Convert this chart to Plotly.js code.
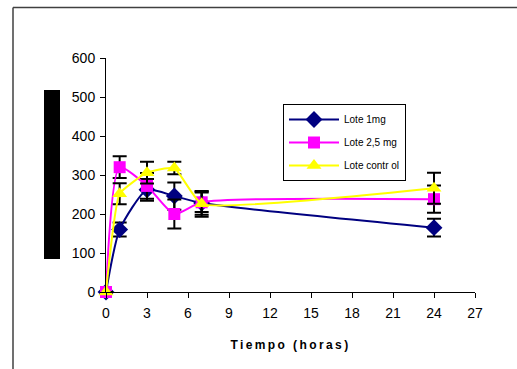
<!DOCTYPE html>
<html>
<head>
<meta charset="utf-8">
<script src="https://cdn.plot.ly/plotly-3.0.1.min.js"></script>
<style>
html,body{margin:0;padding:0;background:#fff;}
#chart{width:517px;height:369px;}
</style>
</head>
<body>
<div id="chart"></div>
<script>
// Data
const tiempo = [0, 1, 3, 5, 7, 24];
const lote1mg = [0, 160, 262, 246, 228, 165];
const lote1mgErr = [0, 18, 28, 35, 30, 23];
const lote25mg = [0, 320, 272, 200, 230, 238];
const lote25mgErr = [0, 28, 33, 37, 25, 35];
const loteControl = [0, 252, 306, 318, 226, 266];
const loteControlErr = [0, 27, 28, 16, 33, 40];
const seriesNames = ['Lote 1mg', 'Lote 2,5 mg', 'Lote contr ol'];
const xTicks = [0, 3, 6, 9, 12, 15, 18, 21, 24, 27];
const yTicks = [0, 100, 200, 300, 400, 500, 600];

function errBar(arr) {
  return {type: 'data', array: arr, visible: true, color: '#000000', thickness: 2, width: 7};
}

const traces = [
  {
    x: tiempo, y: lote1mg, name: seriesNames[0], legendgroup: 'a', type: 'scatter', mode: 'lines+markers',
    line: {color: '#000080', width: 2, shape: 'spline', smoothing: 0.6},
    marker: {symbol: 'diamond', size: 13, color: '#000080'},
    error_y: errBar(lote1mgErr), cliponaxis: false
  },
  {
    x: tiempo, y: lote25mg, name: seriesNames[1], legendgroup: 'b', type: 'scatter', mode: 'lines+markers',
    line: {color: '#FF00FF', width: 2, shape: 'spline', smoothing: 0.6},
    marker: {symbol: 'square', size: 12, color: '#FF00FF'},
    error_y: errBar(lote25mgErr), cliponaxis: false
  },
  {
    x: tiempo, y: loteControl, name: seriesNames[2], legendgroup: 'c', type: 'scatter', mode: 'lines+markers',
    line: {color: '#FFFF00', width: 2, shape: 'spline', smoothing: 0.4},
    marker: {symbol: 'triangle-up', size: 13, color: '#FFFF00'},
    error_y: errBar(loteControlErr), cliponaxis: false
  }
];

const px = v => (v - 106) / 369;
const py = v => (292 - v) / 234;

const layout = {
  width: 517, height: 369,
  margin: {l: 106, r: 42, t: 58, b: 77},
  paper_bgcolor: '#ffffff', plot_bgcolor: '#ffffff',
  font: {family: 'Liberation Sans, Arial, sans-serif', color: '#000000', size: 14},
  showlegend: true,
  legend: {
    x: px(283), y: py(104), xanchor: 'left', yanchor: 'top',
    bordercolor: '#000000', borderwidth: 1, bgcolor: '#ffffff',
    font: {size: 10, family: 'Liberation Sans, Arial, sans-serif'},
    itemwidth: 50, tracegroupgap: 4
  },
  xaxis: {
    range: [0, 27], tickvals: xTicks, ticktext: xTicks.map(String),
    showgrid: false, zeroline: false, showline: true, linecolor: '#000000', linewidth: 1,
    ticks: 'outside', ticklen: 5, tickcolor: '#000000', tickwidth: 1,
    tickfont: {size: 14}, ticklabelstandoff: 3,
    title: {text: 'Tiempo (horas)', font: {size: 12, weight: 'bold'}, standoff: 20}
  },
  yaxis: {
    range: [0, 600], tickvals: yTicks, ticktext: yTicks.map(String),
    showgrid: false, zeroline: false, showline: true, linecolor: '#000000', linewidth: 1,
    ticks: 'outside', ticklen: 5, tickcolor: '#000000', tickwidth: 1,
    tickfont: {size: 14}, ticklabelstandoff: 2
  },
  shapes: [
    {type: 'line', xref: 'paper', yref: 'paper', x0: px(13), x1: px(520), y0: py(7.5), y1: py(7.5),
     line: {color: '#404040', width: 1.5}},
    {type: 'line', xref: 'paper', yref: 'paper', x0: px(13), x1: px(13), y0: py(7.5), y1: py(372),
     line: {color: '#404040', width: 1.5}},
    {type: 'rect', xref: 'paper', yref: 'paper', x0: px(44), x1: px(60), y0: py(90), y1: py(259),
     fillcolor: '#000000', line: {width: 0}}
  ]
};

Plotly.newPlot('chart', traces, layout, {staticPlot: true}).then(function () {
  const t = document.querySelector('.xtitle');
  if (t) t.setAttribute('letter-spacing', '2.4px');
});
</script>
</body>
</html>
